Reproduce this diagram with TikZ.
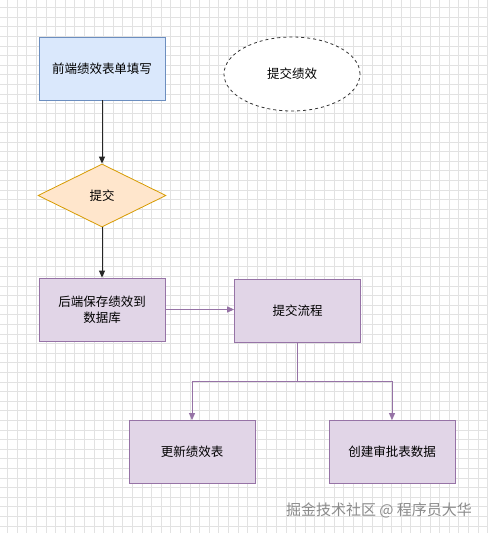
\documentclass[tikz,border=0pt]{standalone}
\usepackage{fontspec}
\setmainfont{Noto Sans CJK SC}
\usetikzlibrary{shapes.geometric,arrows.meta}
\definecolor{bluefill}{HTML}{DAE8FC}
\definecolor{bluedraw}{HTML}{6C8EBF}
\definecolor{orfill}{HTML}{FFE6CC}
\definecolor{ordraw}{HTML}{D79B00}
\definecolor{pufill}{HTML}{E1D5E7}
\definecolor{pudraw}{HTML}{9673A6}
\definecolor{gridc}{HTML}{E2E2E2}
\tikzset{
  box/.style={rectangle,minimum width=126pt,minimum height=63pt,inner sep=2pt,font=\fontsize{12.5}{16}\selectfont,align=center,line width=0.8pt},
  bluebox/.style={box,fill=bluefill,draw=bluedraw},
  purplebox/.style={box,fill=pufill,draw=pudraw},
  dia/.style={diamond,aspect=2,minimum width=128pt,minimum height=63pt,inner sep=0pt,fill=orfill,draw=ordraw,line width=0.8pt,font=\fontsize{12.5}{16}\selectfont},
  ell/.style={ellipse,minimum width=136pt,minimum height=74pt,draw=black!80,dashed,line width=0.8pt,fill=white,font=\fontsize{12.5}{16}\selectfont},
  blkarrow/.style={-{Triangle[length=7pt,width=6pt]},line width=0.9pt,draw=black!85},
  purarrow/.style={-{Triangle[length=7pt,width=6pt]},line width=0.9pt,draw=pudraw},
  purline/.style={line width=0.9pt,draw=pudraw}
}
\begin{document}
\begin{tikzpicture}[x=1pt,y=-1pt]
\fill[white] (0,0) rectangle (488,533);
\useasboundingbox (0,0) rectangle (488,533);
\foreach \i in {0,...,50} {
  \draw[gridc,line width=0.5pt] ({7.5+9.6*\i},0) -- ({7.5+9.6*\i},533);
}
\foreach \i in {0,...,55} {
  \draw[gridc,line width=0.5pt] (0,{7.5+9.6*\i}) -- (488,{7.5+9.6*\i});
}
\node[bluebox] (fill) at (102,68.5) {前端绩效表单填写};
\node[ell] (title) at (292,74) {提交绩效};
\node[dia] (submit) at (102,195.5) {提交};
\node[purplebox] (save) at (102,309.5) {后端保存绩效到\\数据库};
\node[purplebox] (flow) at (297.5,310.5) {提交流程};
\node[purplebox] (upd) at (192,452) {更新绩效表};
\node[purplebox] (create) at (392,452) {创建审批表数据};
\coordinate (split) at (297.5,381);
\draw[blkarrow] (fill) -- (submit);
\draw[blkarrow] (submit) -- (save);
\draw[purarrow] (save.east) -- (flow.west |- save.east);
\draw[purline] (flow.south) -- (split);
\draw[purarrow] (split) -| (upd.north);
\draw[purarrow] (split) -| (create.north);
\node[text=black!45,font=\fontsize{15}{17}\selectfont,anchor=center] (wm) at (379,510) {掘金技术社区 @ 程序员大华};
\end{tikzpicture}
\end{document}
